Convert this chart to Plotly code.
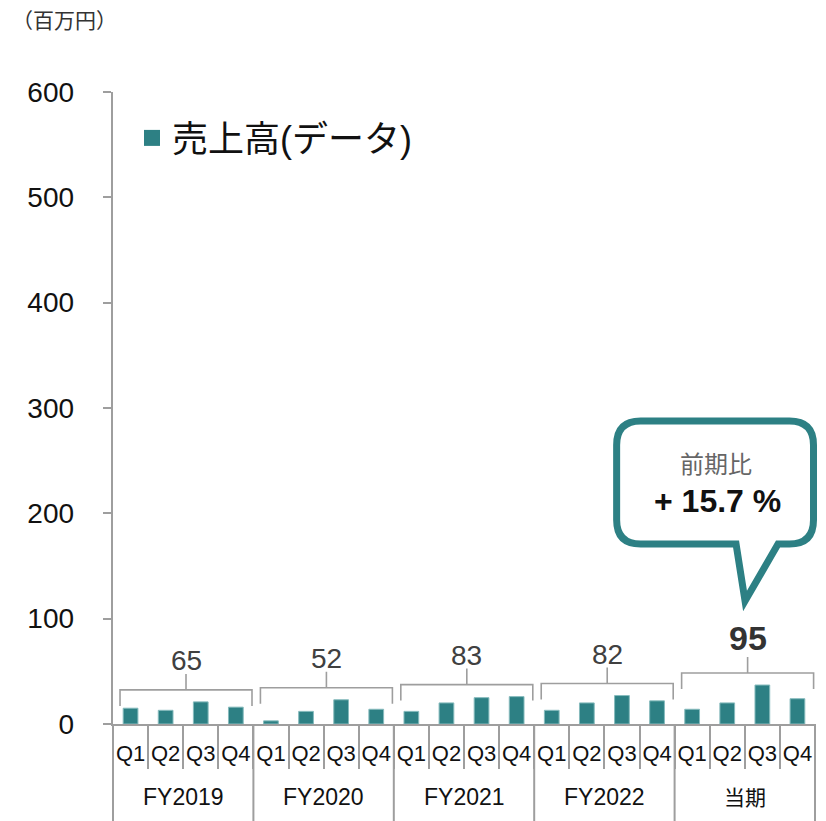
import plotly.graph_objects as go

# ---------------- data ----------------
fiscal_years = ["FY2019", "FY2020", "FY2021", "FY2022", "当期"]
quarters = ["Q1", "Q2", "Q3", "Q4"]
sales_fy2019 = [15, 13, 21, 16]
sales_fy2020 = [3, 12, 23, 14]
sales_fy2021 = [12, 20, 25, 26]
sales_fy2022 = [13, 20, 27, 22]
sales_current = [14, 20, 37, 24]
annual_totals = [65, 52, 83, 82, 95]
yoy_change = "+ 15.7 %"
y_ticks = [0, 100, 200, 300, 400, 500, 600]

series = [sales_fy2019, sales_fy2020, sales_fy2021, sales_fy2022, sales_current]

# ---------------- geometry helpers (page pixel coords) ----------------
OFF = 8                      # default body margin of the page
W, H = 826 - OFF, 821 - OFF
AX_L, AX_R, AX_T, AX_B = 112.5, 815, 92, 724   # plot area in page pixels
ML = AX_L - OFF
MR = W - (AX_R - OFF)
MT = AX_T - OFF
MB = H - (AX_B - OFF)
PW = AX_R - AX_L
PH = AX_B - AX_T
YMAX = 600
PPU = PH / YMAX  # pixels per data unit


def px2paper_x(px):
    return (px - AX_L) / PW


def px2paper_y(py):
    return (AX_B - py) / PH


TEAL = "#2D8084"
TEAL_EDGE = "#86BBBD"
GRAY = "#9E9E9E"
FONT = "Liberation Sans, Noto Sans CJK JP, sans-serif"
NBSP = "\u00a0"

xs, ys, labels = [], [], []
for g, vals in enumerate(series):
    for q, v in enumerate(vals):
        xs.append(g * 4 + q)
        ys.append(v)
        labels.append(quarters[q])

fig = go.Figure()
fig.add_trace(go.Bar(x=xs, y=ys, width=0.42, marker=dict(color=TEAL, line=dict(width=1, color=TEAL_EDGE)),
                     showlegend=False, hoverinfo="skip"))
# legend entry
fig.add_trace(go.Scatter(x=[None], y=[None], mode="markers", name="売上高(データ)",
                         marker=dict(symbol="square", size=18, color=TEAL)))

shapes = []
annotations = []

# brackets and totals
for g, vals in enumerate(series):
    gs = g * 4
    x0, x1 = gs - 0.3, gs + 3.46
    xc = (x0 + x1) / 2
    yb = max(vals) + 12 / PPU
    yl = yb - 16 / PPU
    yt = yb + 16 / PPU
    shapes.append(dict(type="path", xref="x", yref="y",
                       path=f"M {x0},{yl} L {x0},{yb} L {x1},{yb} L {x1},{yl} M {xc},{yb} L {xc},{yt}",
                       line=dict(color=GRAY, width=1.6)))
    last = g == len(series) - 1
    annotations.append(dict(x=xc, y=yt, xref="x", yref="y",
                            text=f"<b>{annual_totals[g]}</b>" if last else str(annual_totals[g]),
                            showarrow=False, xanchor="center", yanchor="middle", yshift=19 if last else 13,
                            font=dict(size=34 if last else 28, color="#333333" if last else "#404040",
                                      family=FONT)))

# group labels and dividers
for g, name in enumerate(fiscal_years):
    annotations.append(dict(x=g * 4 + 1.5, y=px2paper_y(797), xref="x", yref="paper", text=name,
                            showarrow=False, xanchor="center", yanchor="middle",
                            font=dict(size=23 if name != "当期" else 21, color="#111111", family=FONT)))
for b in range(len(fiscal_years) + 1):
    xp = b * 4 / 20
    shapes.append(dict(type="line", xref="paper", yref="paper", x0=xp, x1=xp, y0=0, y1=px2paper_y(830),
                       line=dict(color=GRAY, width=2)))

# speech bubble
L, R, T, B, r = 616.5, 813.5, 421, 544, 24
tl, tr, tip = 736, 778, (745, 601)
pts = [("M", (L + r, T)), ("L", (R - r, T)), ("Q", (R, T), (R, T + r)), ("L", (R, B - r)),
       ("Q", (R, B), (R - r, B)), ("L", (tr, B)), ("L", tip), ("L", (tl, B)), ("L", (L + r, B)),
       ("Q", (L, B), (L, B - r)), ("L", (L, T + r)), ("Q", (L, T), (L + r, T))]
path = ""
for cmd, *ps in pts:
    path += cmd + " " + " ".join(f"{px2paper_x(p[0]):.5f},{px2paper_y(p[1]):.5f}" for p in ps) + " "
path += "Z"
shapes.append(dict(type="path", xref="paper", yref="paper", path=path,
                   line=dict(color=TEAL, width=7), fillcolor="white", layer="above"))
annotations.append(dict(x=px2paper_x(716), y=px2paper_y(464), xref="paper", yref="paper", text="前期比",
                        showarrow=False, xanchor="center", yanchor="middle",
                        font=dict(size=24, color="#666666", family=FONT)))
annotations.append(dict(x=px2paper_x(717), y=px2paper_y(501), xref="paper", yref="paper",
                        text=f"<b>{yoy_change}</b>", showarrow=False, xanchor="center", yanchor="middle",
                        font=dict(size=32, color="#111111", family=FONT)))

fig.update_layout(
    width=W, height=H,
    margin=dict(l=ML, r=MR, t=MT, b=MB, autoexpand=False),
    paper_bgcolor="white", plot_bgcolor="white",
    font=dict(family=FONT, color="#111111"),
    title=dict(text="（百万円）", xref="container", yref="container", x=4 / W, xanchor="left",
               y=1 - (21 - OFF) / H, yanchor="middle", pad=dict(l=0, r=0, t=0, b=0),
               font=dict(size=21, color="#333333", family=FONT)),
    shapes=shapes, annotations=annotations,
    showlegend=True,
    legend=dict(x=px2paper_x(131.5), y=px2paper_y(138), xanchor="left", yanchor="middle",
                font=dict(size=36, color="#111111", family=FONT), bgcolor="rgba(0,0,0,0)"),
    xaxis=dict(range=[-0.5, 19.5], tickmode="array", tickvals=xs, ticktext=labels,
               ticks="", showline=True, linecolor=GRAY, linewidth=2, showgrid=False, zeroline=False,
               tickfont=dict(size=22, color="#111111"), ticklabelstandoff=9,
               minor=dict(tickmode="linear", tick0=-0.5, dtick=1, ticks="outside", ticklen=43,
                          tickcolor=GRAY, tickwidth=2, showgrid=False)),
    yaxis=dict(range=[0, YMAX], tickmode="array", tickvals=y_ticks,
               ticktext=[f"{v}{NBSP * 3}" for v in y_ticks], ticks="outside", ticklen=8,
               tickcolor=GRAY, tickwidth=2, showline=True, linecolor=GRAY, linewidth=2,
               showgrid=False, zeroline=False, tickfont=dict(size=28, color="#111111")),
)

fig.write_html("out.html")
